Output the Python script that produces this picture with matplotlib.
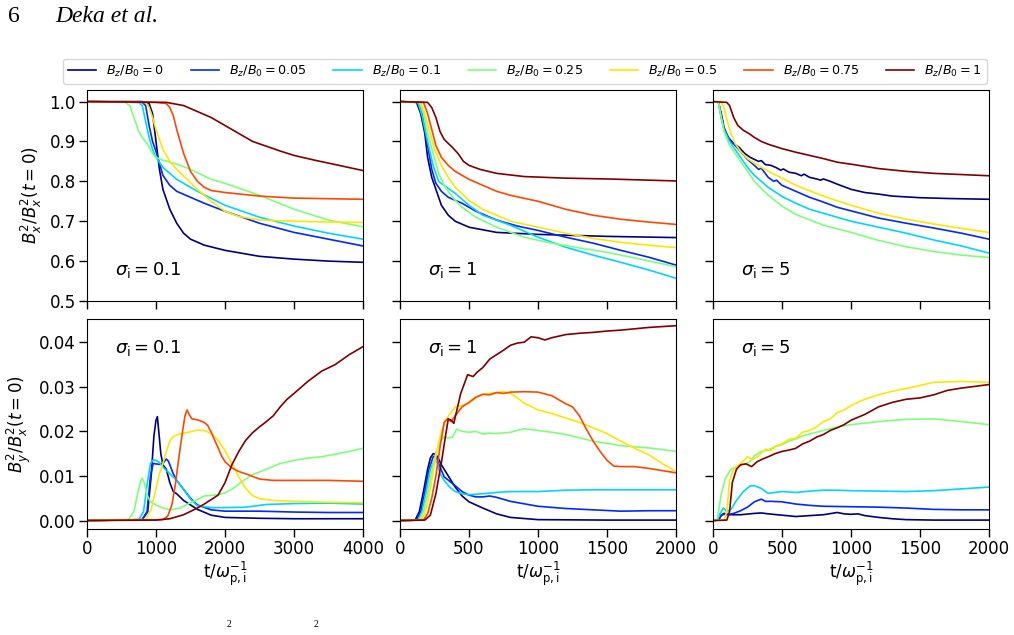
import numpy as np
import matplotlib.pyplot as plt

bz_labels = ['0', '0.05', '0.1', '0.25', '0.5', '0.75', '1']
sigma_labels = ['0.1', '1', '5']

# top row: B_x^2/B_x^2(t=0), sigma_i = 0.1
bx_s01_t = [
    [0, 800, 900, 950, 1000, 1050, 1100, 1200, 1300, 1400, 1500, 1700, 2000, 2500, 3000, 3500, 4000],
    [0, 800, 850, 900, 950, 1000, 1100, 1200, 1300, 1500, 1700, 2000, 2500, 3000, 3500, 4000],
    [0, 750, 800, 850, 900, 950, 1000, 1100, 1300, 1600, 2000, 2500, 3000, 3500, 4000],
    [0, 550, 620, 680, 750, 800, 870, 950, 1000, 1100, 1300, 1500, 1800, 2000, 2500, 3000, 3500, 4000],
    [0, 850, 900, 950, 1000, 1100, 1200, 1300, 1450, 1600, 1800, 2000, 2200, 2500, 3000, 3500, 4000],
    [0, 1000, 1150, 1200, 1250, 1300, 1350, 1400, 1500, 1600, 1700, 1800, 2000, 2500, 3000, 4000],
    [0, 1150, 1400, 1600, 1800, 2000, 2200, 2400, 2600, 2800, 3000, 3300, 3600, 4000],
]
bx_s01_v = [
    [1, 1, 0.995, 0.97, 0.90, 0.83, 0.78, 0.73, 0.695, 0.67, 0.655, 0.64, 0.627, 0.612, 0.605, 0.60, 0.597],
    [1, 0.998, 0.99, 0.94, 0.90, 0.875, 0.815, 0.79, 0.775, 0.76, 0.745, 0.725, 0.695, 0.672, 0.655, 0.638],
    [1, 0.998, 0.99, 0.95, 0.91, 0.88, 0.86, 0.835, 0.805, 0.775, 0.74, 0.71, 0.688, 0.67, 0.655],
    [1, 0.998, 0.99, 0.96, 0.925, 0.91, 0.895, 0.87, 0.86, 0.853, 0.843, 0.83, 0.805, 0.795, 0.765, 0.73, 0.703, 0.686],
    [1, 0.998, 0.985, 0.96, 0.93, 0.88, 0.85, 0.83, 0.805, 0.78, 0.75, 0.725, 0.712, 0.703, 0.70, 0.698, 0.697],
    [1, 0.998, 0.995, 0.985, 0.965, 0.93, 0.90, 0.87, 0.825, 0.80, 0.785, 0.777, 0.772, 0.763, 0.758, 0.755],
    [1, 0.998, 0.99, 0.975, 0.96, 0.94, 0.92, 0.90, 0.888, 0.876, 0.865, 0.853, 0.842, 0.827],
]

# sigma_i = 1
bx_s1_t = [
    [0, 120, 150, 180, 200, 230, 260, 300, 350, 400, 500, 700, 1000, 1500, 2000],
    [0, 130, 160, 200, 230, 260, 300, 350, 450, 550, 700, 850, 1000, 1200, 1400, 1600, 1800, 2000],
    [0, 130, 160, 200, 240, 280, 330, 400, 500, 600, 800, 1000, 1200, 1400, 1600, 1800, 2000],
    [0, 140, 170, 200, 240, 280, 320, 380, 450, 550, 700, 900, 1100, 1300, 1500, 1700, 2000],
    [0, 150, 180, 210, 250, 300, 350, 400, 500, 600, 800, 1000, 1200, 1400, 1600, 1800, 2000],
    [0, 170, 200, 230, 260, 300, 350, 400, 500, 600, 700, 800, 1000, 1200, 1400, 1600, 1800, 2000],
    [0, 200, 230, 260, 290, 320, 350, 380, 420, 460, 500, 580, 700, 900, 1200, 1500, 2000],
]
bx_s1_v = [
    [1, 0.998, 0.97, 0.92, 0.86, 0.81, 0.78, 0.74, 0.715, 0.70, 0.685, 0.672, 0.667, 0.662, 0.659],
    [1, 0.998, 0.97, 0.89, 0.83, 0.795, 0.775, 0.76, 0.745, 0.725, 0.703, 0.688, 0.677, 0.66, 0.645, 0.627, 0.61, 0.59],
    [1, 0.998, 0.965, 0.90, 0.84, 0.80, 0.787, 0.77, 0.74, 0.715, 0.69, 0.66, 0.635, 0.615, 0.597, 0.578, 0.557],
    [1, 0.998, 0.97, 0.92, 0.87, 0.82, 0.79, 0.76, 0.735, 0.71, 0.685, 0.66, 0.645, 0.633, 0.622, 0.608, 0.586],
    [1, 0.998, 0.97, 0.93, 0.88, 0.84, 0.81, 0.785, 0.752, 0.73, 0.70, 0.685, 0.67, 0.657, 0.647, 0.64, 0.634],
    [1, 0.998, 0.97, 0.93, 0.89, 0.86, 0.84, 0.825, 0.805, 0.79, 0.775, 0.765, 0.75, 0.73, 0.715, 0.705, 0.698, 0.692],
    [1, 0.998, 0.985, 0.96, 0.925, 0.905, 0.895, 0.885, 0.87, 0.85, 0.84, 0.83, 0.82, 0.812, 0.808, 0.806, 0.801],
]

# sigma_i = 5 (no B_z/B_0 = 0.75 run)
bx_s5_t = [
    [0, 40, 60, 80, 110, 150, 190, 230, 270, 300, 330, 350, 380, 420, 460, 490, 510, 550, 600, 640, 660, 700, 750, 780, 800, 850, 900, 1000, 1100, 1200, 1300, 1500, 1700, 2000],
    [0, 40, 60, 80, 120, 160, 200, 250, 300, 330, 350, 400, 440, 460, 500, 600, 700, 800, 900, 1000, 1200, 1400, 1600, 1800, 2000],
    [0, 40, 60, 80, 120, 160, 200, 250, 300, 400, 500, 600, 700, 800, 1000, 1200, 1400, 1600, 1800, 2000],
    [0, 40, 60, 80, 120, 160, 200, 250, 300, 350, 400, 500, 600, 800, 1000, 1200, 1400, 1600, 1800, 2000],
    [0, 60, 80, 100, 130, 160, 200, 250, 300, 350, 400, 500, 600, 800, 1000, 1200, 1400, 1600, 1800, 2000],
    None,
    [0, 100, 120, 150, 180, 220, 260, 300, 350, 400, 500, 600, 700, 800, 900, 1000, 1200, 1400, 1600, 1800, 2000],
]
bx_s5_v = [
    [1, 0.998, 0.97, 0.935, 0.91, 0.895, 0.885, 0.87, 0.86, 0.855, 0.85, 0.852, 0.842, 0.84, 0.834, 0.828, 0.831, 0.823, 0.82, 0.814, 0.818, 0.81, 0.806, 0.803, 0.806, 0.80, 0.793, 0.78, 0.772, 0.768, 0.763, 0.759, 0.757, 0.755],
    [1, 0.998, 0.96, 0.93, 0.905, 0.89, 0.875, 0.855, 0.84, 0.83, 0.833, 0.81, 0.80, 0.803, 0.79, 0.775, 0.76, 0.748, 0.735, 0.726, 0.708, 0.695, 0.683, 0.67, 0.655],
    [1, 0.998, 0.96, 0.93, 0.90, 0.88, 0.86, 0.835, 0.815, 0.785, 0.762, 0.745, 0.73, 0.72, 0.70, 0.685, 0.67, 0.653, 0.638, 0.62],
    [1, 0.998, 0.96, 0.925, 0.89, 0.87, 0.85, 0.825, 0.80, 0.782, 0.765, 0.738, 0.717, 0.69, 0.672, 0.652, 0.636, 0.624, 0.615, 0.609],
    [1, 0.998, 0.985, 0.955, 0.92, 0.895, 0.875, 0.857, 0.845, 0.835, 0.825, 0.808, 0.79, 0.763, 0.74, 0.72, 0.705, 0.693, 0.682, 0.672],
    None,
    [1, 0.998, 0.99, 0.96, 0.94, 0.928, 0.92, 0.91, 0.90, 0.893, 0.882, 0.873, 0.865, 0.857, 0.848, 0.843, 0.832, 0.825, 0.82, 0.817, 0.814],
]

# bottom row: B_y^2/B_x^2(t=0), sigma_i = 0.1
by_s01_t = [
    [0, 800, 880, 930, 970, 1000, 1020, 1040, 1070, 1100, 1150, 1200, 1250, 1300, 1400, 1500, 1600, 1800, 2000, 2500, 3000, 4000],
    [0, 800, 870, 920, 960, 1000, 1050, 1100, 1150, 1180, 1250, 1300, 1400, 1500, 1600, 1800, 2000, 2500, 3000, 3500, 4000],
    [0, 750, 820, 870, 920, 960, 1000, 1050, 1100, 1200, 1300, 1400, 1500, 1600, 1800, 2000, 2300, 2600, 3000, 3500, 4000],
    [0, 600, 680, 740, 780, 800, 830, 870, 920, 1000, 1100, 1200, 1350, 1500, 1700, 1900, 2000, 2100, 2250, 2400, 2600, 2800, 3000, 3200, 3400, 3600, 3800, 4000],
    [0, 850, 930, 1000, 1050, 1100, 1150, 1200, 1250, 1300, 1400, 1500, 1600, 1700, 1800, 1900, 2000, 2100, 2200, 2300, 2400, 2500, 2700, 3000, 3500, 4000],
    [0, 1100, 1170, 1230, 1280, 1330, 1380, 1420, 1450, 1480, 1520, 1600, 1700, 1750, 1800, 1850, 1900, 1950, 2000, 2100, 2200, 2350, 2500, 2700, 3000, 3500, 4000],
    [0, 1000, 1200, 1400, 1600, 1700, 1800, 1900, 2000, 2100, 2200, 2300, 2400, 2500, 2600, 2700, 2800, 2900, 3000, 3200, 3400, 3600, 3800, 4000],
]
by_s01_v = [
    [0, 0.0002, 0.002, 0.01, 0.019, 0.0225, 0.0233, 0.020, 0.015, 0.0125, 0.0115, 0.0085, 0.0065, 0.006, 0.0045, 0.0035, 0.0025, 0.0012, 0.0007, 0.0005, 0.0004, 0.0004],
    [0, 0.0002, 0.002, 0.01, 0.0128, 0.0127, 0.0126, 0.0128, 0.0138, 0.0133, 0.0105, 0.009, 0.007, 0.005, 0.0035, 0.0024, 0.0021, 0.0021, 0.0019, 0.0018, 0.0018],
    [0, 0.0002, 0.002, 0.008, 0.0128, 0.0136, 0.0135, 0.013, 0.012, 0.0105, 0.009, 0.007, 0.0048, 0.0033, 0.0029, 0.0029, 0.003, 0.0036, 0.0038, 0.0039, 0.0037],
    [0, 0.0002, 0.002, 0.0065, 0.009, 0.0095, 0.0085, 0.0058, 0.0042, 0.0035, 0.0028, 0.0024, 0.0028, 0.004, 0.0055, 0.0058, 0.0062, 0.007, 0.0088, 0.0103, 0.0115, 0.0128, 0.0135, 0.014, 0.0143, 0.0149, 0.0155, 0.0162],
    [0, 0.0002, 0.0025, 0.0072, 0.0105, 0.0128, 0.0155, 0.0178, 0.0188, 0.0192, 0.0196, 0.0199, 0.0203, 0.0202, 0.0195, 0.018, 0.0157, 0.0127, 0.0098, 0.0072, 0.0056, 0.0049, 0.0045, 0.0043, 0.0041, 0.004],
    [0, 0.0002, 0.001, 0.0035, 0.008, 0.014, 0.0195, 0.0235, 0.0248, 0.0238, 0.0228, 0.0226, 0.022, 0.0213, 0.0198, 0.018, 0.0163, 0.0145, 0.0132, 0.0118, 0.011, 0.0102, 0.0093, 0.009, 0.009, 0.009, 0.0088],
    [0, 0.0001, 0.0004, 0.0013, 0.0028, 0.0037, 0.0047, 0.0057, 0.0085, 0.0125, 0.0155, 0.018, 0.0197, 0.021, 0.0222, 0.0235, 0.0255, 0.0272, 0.0285, 0.0312, 0.0335, 0.035, 0.0372, 0.039],
]

# sigma_i = 1
by_s1_t = [
    [0, 110, 140, 170, 200, 220, 240, 260, 280, 300, 330, 360, 400, 450, 500, 600, 700, 800, 1000, 1500, 2000],
    [0, 120, 150, 180, 210, 240, 260, 290, 320, 360, 400, 450, 500, 550, 600, 650, 700, 800, 1000, 1200, 1400, 1600, 1800, 2000],
    [0, 130, 160, 190, 220, 250, 270, 290, 320, 360, 400, 450, 500, 600, 700, 800, 1000, 1200, 1400, 1600, 1800, 2000],
    [0, 140, 170, 200, 230, 260, 290, 320, 350, 380, 410, 450, 500, 550, 600, 650, 700, 800, 900, 1000, 1100, 1200, 1400, 1600, 1800, 2000],
    [0, 150, 180, 210, 240, 270, 300, 330, 360, 400, 450, 500, 550, 600, 650, 700, 750, 800, 850, 900, 1000, 1100, 1200, 1300, 1400, 1500, 1600, 1700, 1800, 1900, 2000],
    [0, 170, 200, 230, 260, 290, 320, 345, 370, 400, 450, 500, 550, 600, 650, 700, 750, 800, 900, 1000, 1100, 1200, 1250, 1300, 1350, 1400, 1450, 1500, 1550, 1600, 1700, 1800, 1900, 2000],
    [0, 180, 220, 260, 300, 330, 350, 370, 390, 410, 440, 470, 490, 510, 530, 560, 600, 650, 700, 750, 800, 850, 900, 950, 1000, 1050, 1100, 1200, 1300, 1400, 1500, 1600, 1700, 1800, 1900, 2000],
]
by_s1_v = [
    [0, 0.0001, 0.002, 0.0065, 0.0115, 0.014, 0.015, 0.0148, 0.0138, 0.0125, 0.011, 0.0095, 0.0075, 0.0055, 0.0042, 0.0028, 0.0015, 0.0007, 0.0002, 0.0001, 0.0001],
    [0, 0.0001, 0.002, 0.0065, 0.0115, 0.0143, 0.0145, 0.012, 0.0098, 0.0088, 0.0078, 0.0065, 0.0057, 0.0053, 0.0053, 0.0055, 0.0052, 0.0043, 0.0032, 0.0027, 0.0024, 0.0021, 0.0022, 0.0022],
    [0, 0.0001, 0.002, 0.0065, 0.0115, 0.0135, 0.013, 0.0105, 0.009, 0.0075, 0.0065, 0.006, 0.0058, 0.006, 0.0063, 0.0065, 0.0065, 0.0068, 0.0069, 0.0069, 0.0069, 0.0069],
    [0, 0.0001, 0.002, 0.006, 0.011, 0.0152, 0.0178, 0.0188, 0.0185, 0.0187, 0.0205, 0.020, 0.0198, 0.020, 0.0194, 0.0196, 0.0195, 0.0198, 0.0206, 0.0202, 0.0198, 0.0193, 0.0178, 0.0168, 0.0163, 0.0155],
    [0, 0.0001, 0.0015, 0.0055, 0.011, 0.016, 0.020, 0.0225, 0.0238, 0.0255, 0.0258, 0.0263, 0.0275, 0.0283, 0.0285, 0.0287, 0.0289, 0.0285, 0.0275, 0.0263, 0.0248, 0.024, 0.023, 0.022, 0.0208, 0.0195, 0.0178, 0.0162, 0.0148, 0.0128, 0.011],
    [0, 0.0001, 0.0015, 0.005, 0.010, 0.0165, 0.022, 0.0228, 0.0222, 0.0235, 0.0255, 0.0265, 0.0277, 0.0283, 0.0282, 0.0287, 0.0285, 0.0288, 0.0289, 0.0288, 0.028, 0.0262, 0.0255, 0.0235, 0.0205, 0.0178, 0.0155, 0.0135, 0.0122, 0.0121, 0.0121, 0.0117, 0.0112, 0.0107],
    [0, 0.0001, 0.0012, 0.006, 0.013, 0.019, 0.0228, 0.0225, 0.0218, 0.0245, 0.0285, 0.031, 0.0327, 0.0325, 0.0323, 0.0333, 0.0343, 0.0362, 0.0372, 0.0382, 0.0393, 0.0398, 0.040, 0.0412, 0.041, 0.0405, 0.041, 0.0417, 0.042, 0.0422, 0.0425, 0.0427, 0.043, 0.0433, 0.0435, 0.0437],
]

# sigma_i = 5
by_s5_t = [
    [0, 40, 60, 80, 120, 200, 300, 350, 400, 500, 600, 700, 800, 900, 950, 1000, 1050, 1100, 1200, 1300, 1400, 1600, 1800, 2000],
    [0, 40, 60, 80, 100, 150, 200, 250, 300, 350, 380, 420, 500, 600, 700, 800, 1000, 1200, 1400, 1600, 1800, 2000],
    [0, 30, 50, 75, 100, 130, 170, 220, 270, 300, 350, 400, 450, 500, 600, 700, 800, 900, 1000, 1200, 1400, 1600, 1800, 2000],
    [0, 30, 60, 90, 130, 180, 230, 260, 300, 350, 400, 450, 500, 550, 600, 650, 700, 800, 900, 1000, 1200, 1400, 1600, 1800, 2000],
    [0, 80, 100, 120, 150, 200, 250, 290, 330, 380, 420, 460, 500, 550, 600, 650, 700, 750, 800, 850, 900, 950, 1000, 1100, 1200, 1300, 1400, 1500, 1600, 1800, 2000],
    None,
    [0, 100, 120, 140, 170, 200, 240, 280, 320, 360, 400, 450, 500, 550, 600, 650, 700, 750, 800, 850, 900, 950, 1000, 1100, 1200, 1300, 1400, 1500, 1600, 1700, 1800, 1900, 2000],
]
by_s5_v = [
    [0, 0.0001, 0.0012, 0.0016, 0.0013, 0.0013, 0.0016, 0.0017, 0.0015, 0.0012, 0.0009, 0.0011, 0.0013, 0.0018, 0.0015, 0.0014, 0.0015, 0.0011, 0.0007, 0.0004, 0.0002, 0.0001, 0.0001, 0.0001],
    [0, 0.0001, 0.0012, 0.0014, 0.0013, 0.0016, 0.0022, 0.003, 0.0042, 0.0048, 0.0043, 0.0043, 0.0042, 0.0037, 0.0034, 0.0032, 0.0031, 0.003, 0.0028, 0.0025, 0.0024, 0.0024],
    [0, 0.0001, 0.0015, 0.0028, 0.002, 0.0025, 0.0045, 0.0065, 0.0078, 0.0078, 0.0072, 0.0061, 0.0063, 0.0065, 0.0063, 0.0066, 0.0068, 0.0068, 0.0067, 0.0066, 0.0065, 0.0067, 0.0071, 0.0075],
    [0, 0.0001, 0.006, 0.0095, 0.0115, 0.0122, 0.0128, 0.013, 0.0145, 0.0155, 0.0158, 0.0166, 0.017, 0.0178, 0.0183, 0.019, 0.0194, 0.0202, 0.021, 0.0215, 0.0222, 0.0227, 0.0228, 0.0222, 0.0215],
    [0, 0.0001, 0.002, 0.009, 0.0115, 0.0128, 0.0143, 0.0137, 0.0145, 0.016, 0.0157, 0.0168, 0.0172, 0.0182, 0.0185, 0.0198, 0.0202, 0.021, 0.0222, 0.0228, 0.0242, 0.0248, 0.0258, 0.0272, 0.0282, 0.029, 0.0296, 0.0303, 0.031, 0.0312, 0.031],
    None,
    [0, 0.0001, 0.002, 0.0085, 0.0115, 0.0125, 0.0127, 0.0121, 0.0132, 0.0138, 0.0143, 0.015, 0.0155, 0.0158, 0.0162, 0.0172, 0.0178, 0.0187, 0.0193, 0.0202, 0.0208, 0.0215, 0.0225, 0.0238, 0.0255, 0.0265, 0.0272, 0.0275, 0.0282, 0.0292, 0.0297, 0.0301, 0.0305],
]

top_t = [bx_s01_t, bx_s1_t, bx_s5_t]
top_v = [bx_s01_v, bx_s1_v, bx_s5_v]
bot_t = [by_s01_t, by_s1_t, by_s5_t]
bot_v = [by_s01_v, by_s1_v, by_s5_v]
t_max = [4000, 2000, 2000]

colors = plt.cm.jet(np.linspace(0, 1, 7))

fig = plt.figure(figsize=(10.14, 6.35), dpi=100)
W, H = 1014., 635.
lefts = [87, 400, 713]
aw = 276

axes_top, axes_bot = [], []
for j in range(3):
    axt = fig.add_axes([lefts[j]/W, 1 - 301/H, aw/W, 211/H],
                       sharey=axes_top[0] if j else None)
    axb = fig.add_axes([lefts[j]/W, 1 - 529/H, aw/W, 210/H], sharex=axt,
                       sharey=axes_bot[0] if j else None)
    axes_top.append(axt)
    axes_bot.append(axb)

for j in range(3):
    axt, axb = axes_top[j], axes_bot[j]
    for k in range(7):
        if top_t[j][k] is None:
            continue
        axt.plot(top_t[j][k], top_v[j][k], color=colors[k], lw=1.2,
                 label=r'$B_z/B_0 = %s$' % bz_labels[k])
        axb.plot(bot_t[j][k], bot_v[j][k], color=colors[k], lw=1.2)
    axt.set_xlim(0, t_max[j])
    axt.set_xticks(np.linspace(0, t_max[j], 5))
    axt.set_ylim(0.5, 1.029)
    axt.set_yticks([0.5, 0.6, 0.7, 0.8, 0.9, 1.0])
    axb.set_ylim(-0.0019, 0.0452)
    axb.set_yticks([0, 0.01, 0.02, 0.03, 0.04])
    axt.tick_params(labelbottom=False)
    if j > 0:
        axt.tick_params(labelleft=False)
        axb.tick_params(labelleft=False)
    axb.set_xlabel(r't/$\omega_{\rm p,i}^{-1}$', fontsize=12, labelpad=1)
    for ax in (axt, axb):
        ax.tick_params(direction='out', length=6, width=1, labelsize=12, pad=2)
    axt.text(0.10, 0.147, r'$\sigma_{\rm i} = %s$' % sigma_labels[j],
             transform=axt.transAxes, fontsize=13, va='center')
    axb.text(0.10, 0.862, r'$\sigma_{\rm i} = %s$' % sigma_labels[j],
             transform=axb.transAxes, fontsize=13, va='center')

axes_bot[0].set_xticks([0, 1000, 2000, 3000, 4000])
axes_top[0].set_ylabel(r'$B_x^2/B_x^2(t=0)$', fontsize=12, labelpad=4)
axes_bot[0].set_ylabel(r'$B_y^2/B_x^2(t=0)$', fontsize=12, labelpad=4)

handles, labels = axes_top[0].get_legend_handles_labels()
fig.legend(handles, labels, loc='lower left', ncol=7, mode='expand',
           bbox_to_anchor=(63/W, 1 - 84/H, 924/W, 24/H), fontsize=9.2,
           handlelength=2.2, borderaxespad=0, frameon=True)

fig.text(8/W, 1 - 16/H, '6', family='Liberation Serif', fontsize=17, va='center')
fig.text(55/W, 1 - 16/H, 'Deka et al.', family='Liberation Serif',
         style='italic', fontsize=17, va='center')
fig.text(227/W, 1 - 629/H, '2', family='Liberation Serif', fontsize=7, va='bottom')
fig.text(314/W, 1 - 629/H, '2', family='Liberation Serif', fontsize=7, va='bottom')

fig.savefig('out.png', dpi=100)
